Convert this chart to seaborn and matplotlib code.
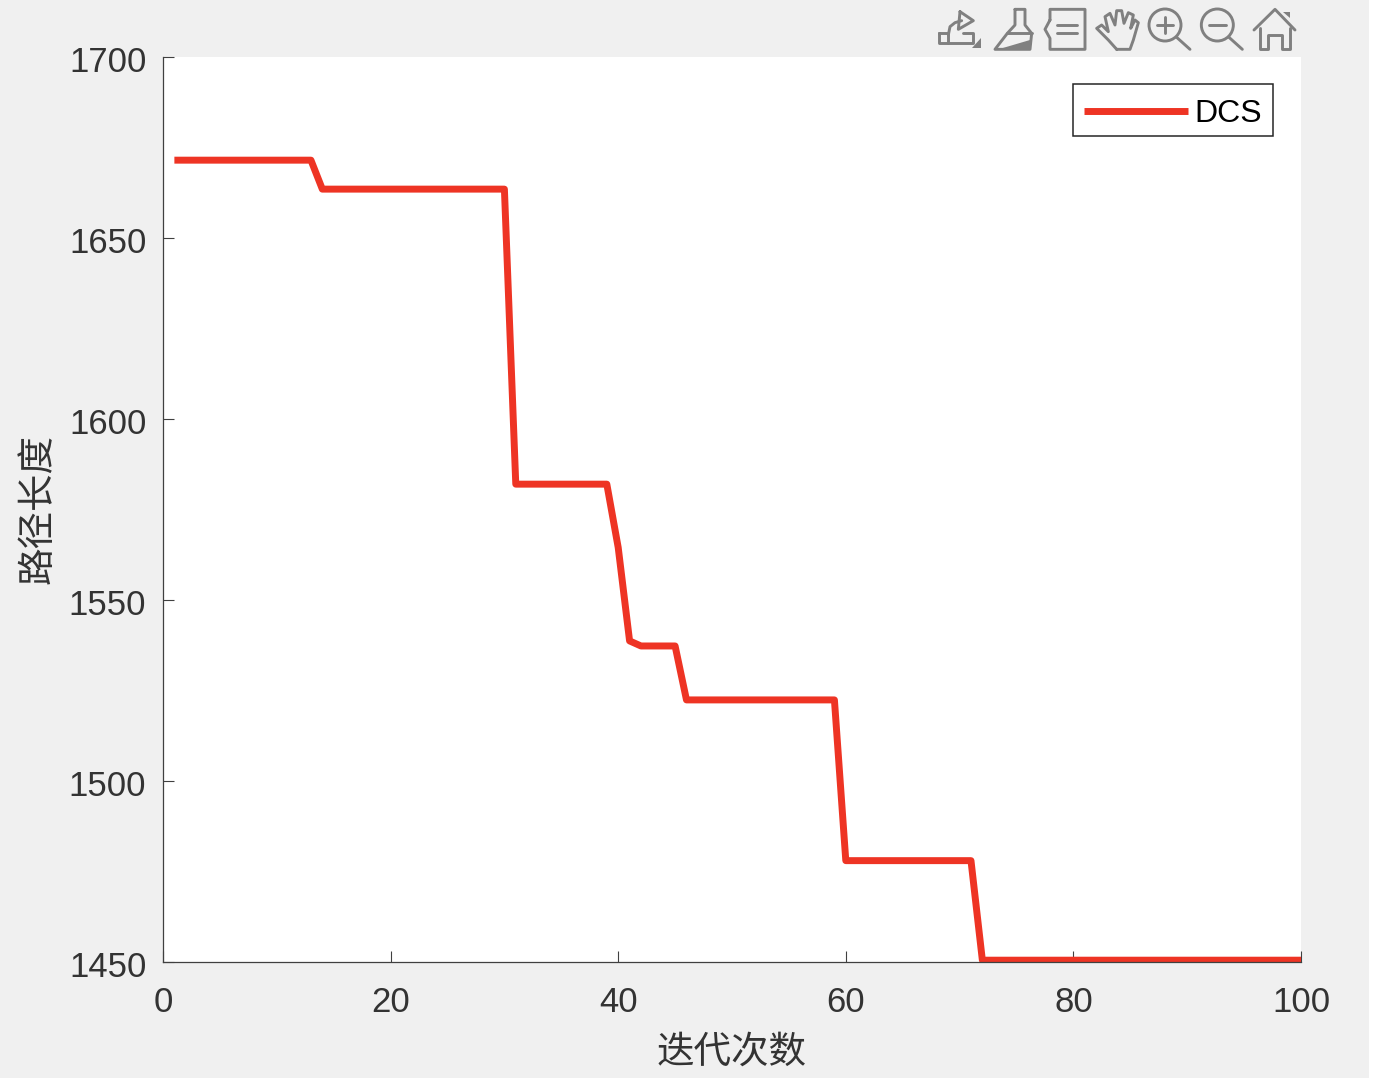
import matplotlib.pyplot as plt
import matplotlib.patches as mpatches
import matplotlib.transforms as mtrans
import numpy as np
import pandas as pd
import seaborn as sns

# curve corners, straight lines in between
iterations = [1, 13, 14, 30, 31, 39, 40, 41, 42, 45, 46, 59, 60, 71, 72, 100]
path_length = [1671.5, 1671.5, 1663.5, 1663.5, 1582, 1582, 1564.5, 1538.7, 1537.3,
               1537.3, 1522.4, 1522.4, 1478, 1478, 1450.5, 1450.5]
x_ticks = [0, 20, 40, 60, 80, 100]
y_ticks = [1450, 1500, 1550, 1600, 1650, 1700]

df = pd.DataFrame({"iter": iterations, "length": path_length})

sns.set_theme(style="white")
plt.rcParams["font.family"] = ["Liberation Sans", "Noto Sans CJK SC", "DejaVu Sans"]

W, H = 1374, 1082
BG = "#f0f0f0"
TXT = "#333333"
RED = "#ee3424"
ICON = "#808080"

fig = plt.figure(figsize=(W / 100, H / 100), dpi=100, facecolor="white")

# overlay in pixel coords for the window background and toolbar
bg = fig.add_axes([0, 0, 1, 1], zorder=0)
bg.set_xlim(0, W)
bg.set_ylim(H, 0)
bg.axis("off")
bg.add_patch(mpatches.Rectangle((0, 0), 1369, 1078, color=BG, lw=0))


def icon_line(pts, fill=False):
    pts = [(920 + a / 3, b / 3) for a, b in pts]
    if fill:
        bg.add_patch(mpatches.Polygon(pts, closed=True, color=ICON, lw=0))
    else:
        bg.plot(*zip(*pts), color=ICON, lw=2.1, solid_joinstyle="round", solid_capstyle="round")


# edit plot
icon_line([(57, 100), (85, 100), (85, 128), (57, 128), (57, 100)])
icon_line([(85, 128), (160, 128), (160, 100), (130, 100)])
icon_line([(85, 105), (90, 80), (105, 68), (125, 62)])
icon_line([(120, 35), (160, 62), (115, 88), (120, 35)])
icon_line([(155, 145), (182, 145), (182, 115)], fill=True)
# brush
icon_line([(285, 28), (315, 28), (315, 75), (335, 100), (330, 148), (225, 148), (262, 100), (285, 75), (285, 28)])
icon_line([(262, 100), (335, 100)])
icon_line([(235, 148), (330, 120), (330, 148)], fill=True)
# legend
icon_line([(390, 60), (390, 28), (495, 28), (495, 148), (390, 148), (390, 115), (375, 88), (390, 60)])
icon_line([(412, 75), (472, 75)])
icon_line([(412, 100), (472, 100)])
# hand
icon_line([(590, 148), (565, 120), (530, 85), (545, 75), (565, 95), (555, 50), (570, 40), (585, 75),
           (590, 32), (605, 32), (612, 70), (625, 38), (640, 45), (632, 85), (645, 60), (655, 68),
           (640, 120), (630, 148), (590, 148)])
# zoom in / out
for cx in [735, 892]:
    bg.add_patch(mpatches.Circle((920 + cx / 3, 25), 16, fill=False, ec=ICON, lw=2.1))
    icon_line([(cx + 35, 112), (cx + 75, 148)])
    icon_line([(cx - 25, 75), (cx + 25, 75)])
icon_line([(735, 50), (735, 100)])
# home
icon_line([(1002, 90), (1065, 28), (1125, 90)])
icon_line([(1020, 85), (1020, 148), (1045, 148), (1045, 105), (1085, 105), (1085, 148), (1110, 148), (1110, 85)])
icon_line([(1090, 35), (1110, 35), (1110, 55)], fill=True)

ax = fig.add_axes([163 / W, 1 - 962 / H, 1138 / W, 905 / H], zorder=1, facecolor="white")
sns.lineplot(data=df, x="iter", y="length", color=RED, linewidth=5, label="DCS",
             estimator=None, solid_capstyle="butt", ax=ax)

ax.set_xlim(0, 100)
ax.set_ylim(1450, 1700)
ax.set_xticks(x_ticks)
ax.set_yticks(y_ticks)
ax.tick_params(direction="in", length=8, width=0.8, color="#404040", labelcolor=TXT, labelsize=25,
               bottom=True, left=True)
ax.tick_params(axis="x", pad=17)
ax.tick_params(axis="y", pad=12)
sns.despine(ax=ax)
for s in ["left", "bottom"]:
    ax.spines[s].set_color("#404040")
    ax.spines[s].set_linewidth(0.9)

# y labels sit a little low in the original
nudge = mtrans.ScaledTranslation(0, -1.2 / 72, fig.dpi_scale_trans)
for lab in ax.get_yticklabels():
    lab.set_transform(lab.get_transform() + nudge)

ax.set_xlabel("迭代次数", fontsize=27, color=TXT, labelpad=11.5)
ax.set_ylabel("路径长度", fontsize=27, color=TXT, labelpad=9)

leg = ax.legend(loc="upper right", bbox_to_anchor=(1273 / W, 1 - 84 / H), bbox_transform=fig.transFigure,
                prop={"family": "Liberation Sans", "size": 23}, frameon=True, fancybox=False, framealpha=1,
                edgecolor="#262626", handlelength=3.25, handletextpad=0.2, borderaxespad=0, borderpad=0.34)
leg.get_frame().set_linewidth(1.1)
handle = leg.get_lines()[0]
handle.set_linewidth(5)
handle.set_solid_capstyle("butt")
# push legend contents down to the middle of the box
handle.set_ydata(np.asarray(handle.get_ydata()) - 2.9)
for t in leg.get_texts():
    t.set_color("black")
    t.set_position((0, -4.5))

fig.savefig("out.png", dpi=100, facecolor=fig.get_facecolor())
